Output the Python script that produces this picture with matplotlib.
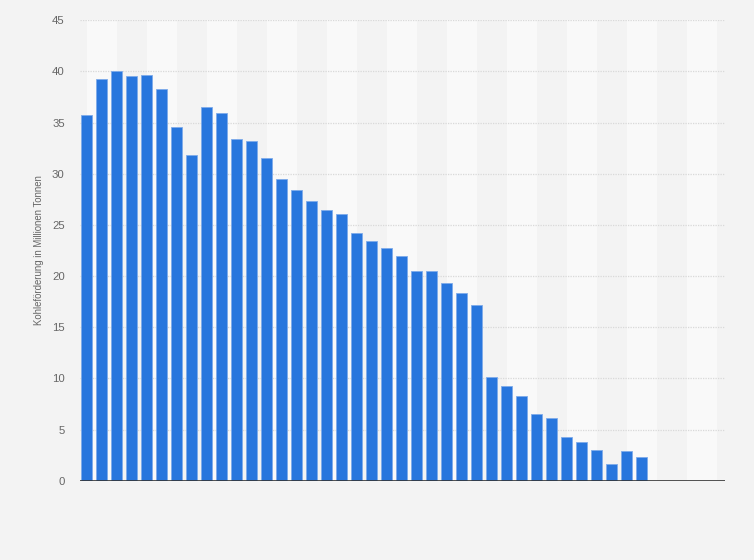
import matplotlib
matplotlib.use("Agg")
import matplotlib.pyplot as plt
import numpy as np

years = list(range(1981, 2024))
values = [35.7, 39.3, 40.0, 39.6, 39.7, 38.3, 34.6, 31.8, 36.5, 35.9,
          33.4, 33.2, 31.5, 29.5, 28.4, 27.3, 26.5, 26.1, 24.2, 23.4,
          22.7, 22.0, 20.5, 20.5, 19.3, 18.3, 17.2, 10.1, 9.3, 8.3,
          6.5, 6.1, 4.3, 3.8, 3.0, 1.6, 2.9, 2.35, 0.0, 0.0,
          0.0, 0.0, 0.0]
y_ticks = [0, 5, 10, 15, 20, 25, 30, 35, 40, 45]
y_label = "Kohleförderung in Millionen Tonnen"

plt.rcParams['font.family'] = ['Liberation Sans', 'DejaVu Sans']

W, H = 754, 560
fig = plt.figure(figsize=(W / 100, H / 100), dpi=100, facecolor='#f3f3f3')
left, right, top, bottom = 80, 725, 20.3, 480.7
ax = fig.add_axes([left / W, 1 - bottom / H, (right - left) / W, (bottom - top) / H])
ax.set_facecolor('#f3f3f3')

x = np.arange(len(values))
ax.set_xlim(-0.45, len(values) - 0.45)
ax.set_ylim(0, 45)

# alternating bands, every two categories starting from first category center
for start in range(0, len(values), 4):
    ax.axvspan(start, min(start + 2, len(values) - 0.45), color='#f9f9f9', zorder=0, lw=0)

for t in y_ticks[1:]:
    ax.axhline(t, color='#d9d9d9', lw=0.9, ls=(0, (1, 1)), zorder=1)

ax.bar(x, values, width=0.73, color='#2876dd', edgecolor='#7eabea', linewidth=0.6, zorder=2)
ax.axhline(0, color='#333333', lw=1.2, zorder=3)

for s in ax.spines.values():
    s.set_visible(False)
ax.set_xticks([])
ax.set_yticks(y_ticks)
ax.set_yticklabels([str(t) for t in y_ticks])
ax.tick_params(axis='y', length=0, pad=11, labelsize=8.2, labelcolor='#666666')

fig.text(39 / W, 1 - 250 / H, y_label, rotation=90, ha='center', va='center',
         fontsize=6.9, color='#666666')

fig.savefig('out.png', dpi=100, facecolor=fig.get_facecolor())
